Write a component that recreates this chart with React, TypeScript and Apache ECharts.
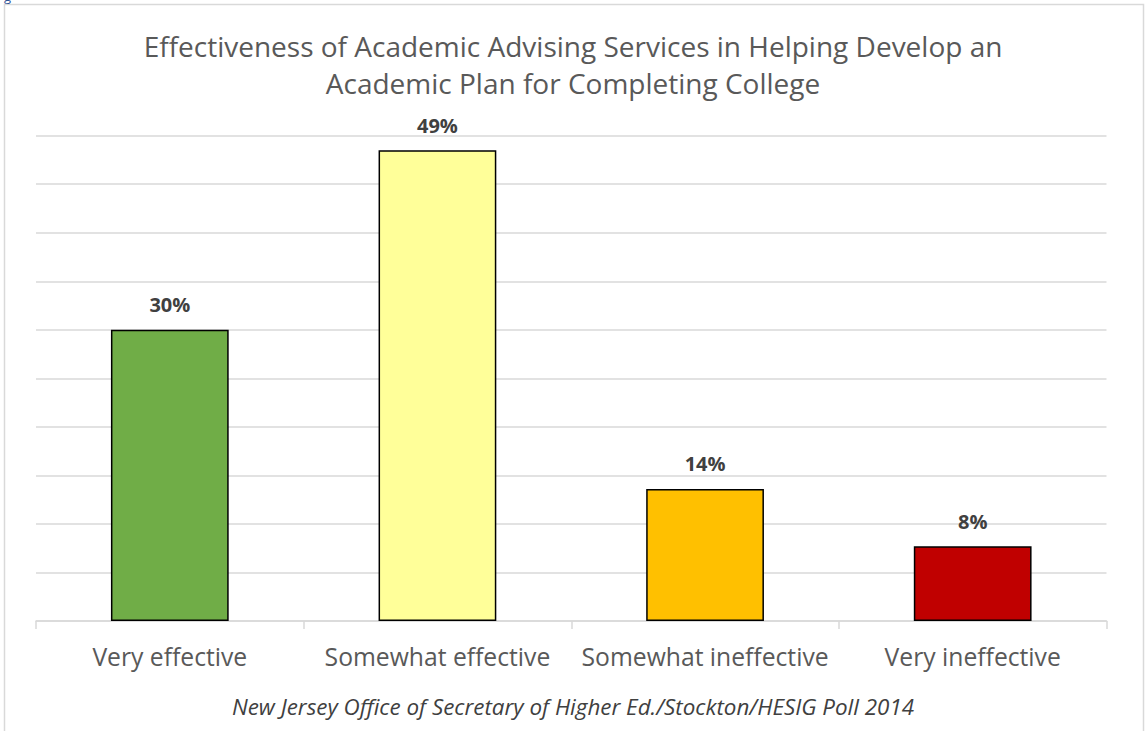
import React, { useEffect, useRef } from "react";
import * as echarts from "echarts";

const categories = ["Very effective", "Somewhat effective", "Somewhat ineffective", "Very ineffective"];
const values = [30.0, 48.5, 13.6, 7.7];
const labels = ["30%", "49%", "14%", "8%"];
const barColors = ["#70AD47", "#FFFF99", "#FFC000", "#C00000"];
const titleLines = [
  "Effectiveness of Academic Advising Services in Helping Develop an",
  "Academic Plan for Completing College",
];
const footnote = "New Jersey Office of Secretary of Higher Ed./Stockton/HESIG Poll 2014";

const FONT = "'Open Sans', sans-serif";

export default function App() {
  const ref = useRef<HTMLDivElement>(null);
  useEffect(() => {
    if (!ref.current) return;
    const chart = echarts.init(ref.current, null, { renderer: "svg" });
    chart.setOption({
      animation: false,
      backgroundColor: "#ffffff",
      title: {
        text: titleLines.join("\n"),
        left: "center",
        top: 22,
        textStyle: {
          fontFamily: FONT,
          fontSize: 28,
          fontWeight: "normal",
          color: "#595959",
          lineHeight: 37,
        },
      },
      graphic: [
        {
          type: "rect",
          shape: { x: 4.5, y: 4.5, width: 1139, height: 760 },
          style: { fill: "none", stroke: "#d9d9d9", lineWidth: 1.5 },
          silent: true,
          z: 0,
        },
        {
          type: "text",
          left: "center",
          top: 695,
          style: {
            text: footnote,
            font: `italic 22.4px ${FONT}`,
            fill: "#404040",
          },
        },
        {
          type: "text",
          x: 4,
          y: -11,
          style: { text: "g", font: `13px ${FONT}`, fill: "#2F5597" },
        },
      ],
      grid: { left: 36, right: 39.5, top: 135.7, bottom: 110, containLabel: false },
      xAxis: {
        type: "category",
        data: categories,
        axisLine: { lineStyle: { color: "#d9d9d9", width: 1.5 } },
        axisTick: { show: true, length: 8, lineStyle: { color: "#d9d9d9", width: 1.5 } },
        axisLabel: {
          fontFamily: FONT,
          fontSize: 24.7,
          color: "#595959",
          margin: 23,
          interval: 0,
        },
      },
      yAxis: {
        type: "value",
        min: 0,
        max: 50,
        interval: 5,
        axisLabel: { show: false },
        axisLine: { show: false },
        axisTick: { show: false },
        splitLine: { lineStyle: { color: "#d9d9d9", width: 1.5 } },
      },
      series: [
        {
          type: "bar",
          barWidth: "44%",
          data: values.map((v, i) => ({
            value: v,
            itemStyle: { color: barColors[i], borderColor: "#000000", borderWidth: 1.5 },
          })),
          label: {
            show: true,
            position: "top",
            distance: 15,
            formatter: (p: any) => labels[p.dataIndex],
            fontFamily: FONT,
            fontSize: 20,
            fontWeight: "bold",
            color: "#404040",
          },
        },
      ],
    });
    return () => chart.dispose();
  }, []);
  return (
    <div
      ref={ref}
      style={{ position: "fixed", left: 0, top: 0, width: 1146, height: 731 }}
    />
  );
}
